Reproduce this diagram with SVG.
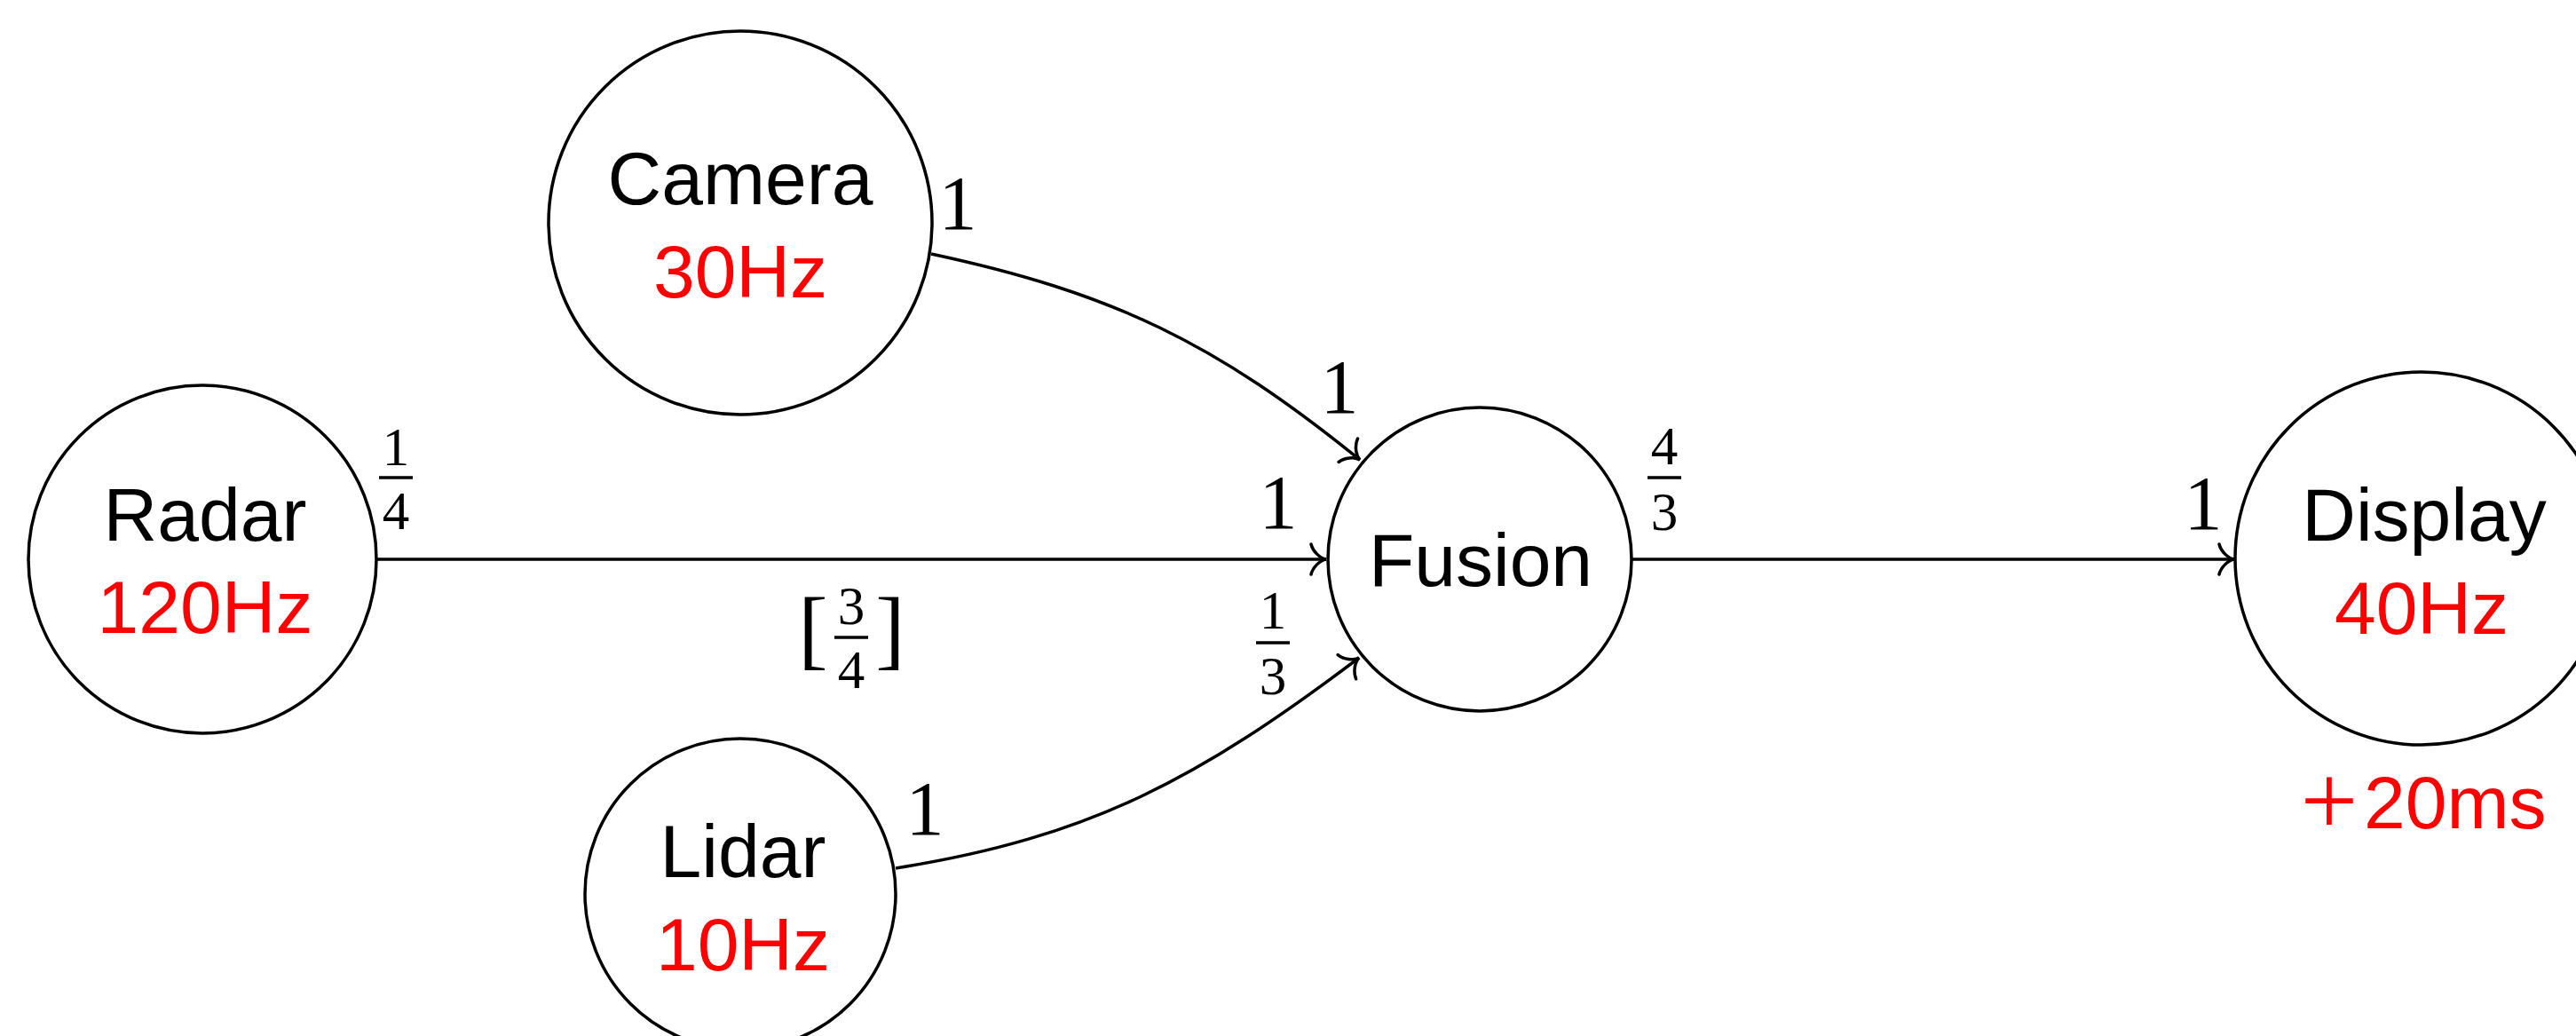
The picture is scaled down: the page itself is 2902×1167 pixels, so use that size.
<svg xmlns="http://www.w3.org/2000/svg" width="2902" height="1167" viewBox="0 0 2902 1167">
<style>
.node{fill:#ffffff;stroke:#000000;stroke-width:3.5}
.lbl{font-family:"Liberation Sans",Arial,sans-serif;font-size:84px;fill:#000000;text-anchor:middle}
.red{fill:#ff0000}
.edge{fill:none;stroke:#000000;stroke-width:3.5}
.math{font-family:"Liberation Serif","Times New Roman",serif;font-size:86px;fill:#000000;text-anchor:middle}
.frac{font-family:"Liberation Serif","Times New Roman",serif;font-size:61px;fill:#000000;text-anchor:middle}
.bar{stroke:#000000;stroke-width:3.5}
</style>
<defs>
<marker id="arr" markerUnits="userSpaceOnUse" viewBox="-22 -22 44 44" markerWidth="44" markerHeight="44" refX="0" refY="0" orient="auto" overflow="visible">
<path d="M -17,-17 C -15,-9 -7,-1 0,0 C -7,1 -15,9 -17,17" fill="none" stroke="#000000" stroke-width="3.5" stroke-linecap="round"/>
</marker>
</defs>
<rect x="0" y="0" width="2902" height="1167" fill="#ffffff"/>
<g id="connectors">
<path class="edge" d="M 424,630 L 1494,630" marker-end="url(#arr)"/>
<path class="edge" d="M 1049,286 C 1254,330 1369,386 1532,518" marker-end="url(#arr)"/>
<path class="edge" d="M 1009,978 C 1230,943 1352,876 1531,741" marker-end="url(#arr)"/>
<path class="edge" d="M 1839,630 L 2517,630" marker-end="url(#arr)"/>
<g id="edge-labels">
<text class="frac" x="446" y="524">1</text>
<line class="bar" x1="427" y1="538" x2="465" y2="538"/>
<text class="frac" x="446" y="596">4</text>
<text class="math" x="1440" y="595">1</text>
<text x="916" y="742" style="font-family:'Liberation Serif',serif;font-size:100px;text-anchor:middle">[</text>
<text class="frac" x="959" y="703">3</text>
<line class="bar" x1="940" y1="718" x2="978" y2="718"/>
<text class="frac" x="959" y="775">4</text>
<text x="1003" y="742" style="font-family:'Liberation Serif',serif;font-size:100px;text-anchor:middle">]</text>
<text class="math" x="1079" y="258">1</text>
<text class="math" x="1509" y="465">1</text>
<text class="math" x="1042" y="940">1</text>
<text class="frac" x="1434" y="708">1</text>
<line class="bar" x1="1415" y1="724" x2="1453" y2="724"/>
<text class="frac" x="1434" y="782">3</text>
<text class="frac" x="1875" y="523">4</text>
<line class="bar" x1="1856" y1="538" x2="1894" y2="538"/>
<text class="frac" x="1875" y="597">3</text>
<text class="math" x="2482" y="596">1</text>
</g>
</g>
<g id="radar">
<circle class="node" cx="228" cy="630" r="196"/>
<text class="lbl" x="231" y="609">Radar</text>
<text class="lbl red" x="231" y="713">120Hz</text>
</g>
<g id="camera">
<circle class="node" cx="834" cy="251" r="216"/>
<text class="lbl" x="834" y="230">Camera</text>
<text class="lbl red" x="834" y="335">30Hz</text>
</g>
<g id="lidar">
<circle class="node" cx="834" cy="1007" r="175"/>
<text class="lbl" x="837" y="988">Lidar</text>
<text class="lbl red" x="837" y="1093">10Hz</text>
</g>
<g id="fusion">
<circle class="node" cx="1667" cy="630" r="171"/>
<text class="lbl" x="1668" y="660">Fusion</text>
</g>
<g id="display">
<circle class="node" cx="2728" cy="629" r="210"/>
<text class="lbl" x="2731" y="609">Display</text>
<text class="lbl red" x="2728" y="714">40Hz</text>
<text x="2624" y="940" style="font-family:'Liberation Serif',serif;font-size:115px;fill:#ff0000;text-anchor:middle">+</text>
<text class="lbl red" x="2663" y="933" style="text-anchor:start">20ms</text>
</g>
</svg>
